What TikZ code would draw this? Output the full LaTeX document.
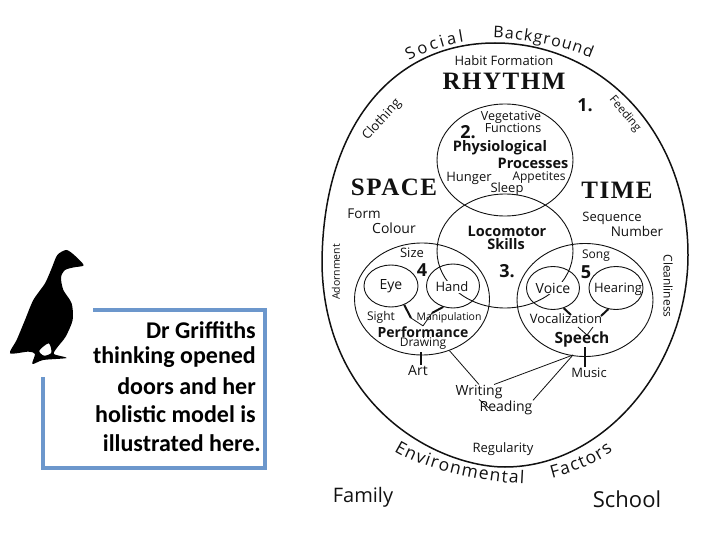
\documentclass[tikz,border=0pt]{standalone}
\usepackage{fontspec}
\setmainfont{Open Sans}
\newfontfamily\notefont{Carlito}
\newfontfamily\headfont[LetterSpace=6]{Liberation Serif}
\usepackage{tikz}
\usetikzlibrary{shapes.geometric,decorations.text}
\definecolor{ink}{HTML}{111111}
\definecolor{framing}{HTML}{6C97CC}
\tikzset{
  oval/.style={draw=ink,ellipse,line width=0.9pt,inner sep=0pt},
  plain/.style={color=ink,inner sep=0.5pt},
  numeral/.style={color=ink,font=\fontsize{18}{20}\selectfont\bfseries,inner sep=0pt},
  heading/.style={color=ink,font=\fontsize{25}{28}\headfont\bfseries,inner sep=0pt},
  stub/.style={draw=ink,line width=2pt},
  rule/.style={draw=ink,line width=1.2pt},
  thin/.style={draw=ink,line width=0.8pt},
  arcword/.style={decorate,decoration={text along path,text align={fit to path},text={#1}}}
}
\begin{document}
\begin{tikzpicture}[x=1pt,y=-1pt]
  \useasboundingbox (0,0) rectangle (720,540);

  % duck
  \begin{scope}[shift={(0,240)},x=0.3333pt,y=-0.3333pt]
    \fill[black,even odd rule]
      plot[smooth cycle,tension=0.45] coordinates {(251,76) (222,82) (195,90) (183,112) (190,150) (215,190) (218,240) (197,290) (172,322) (162,342) (200,354) (130,360) (97,372) (105,342) (85,335) (30,340) (50,300) (75,240) (100,180) (135,130) (155,85) (172,45) (200,30) (228,50)}
      plot[smooth cycle] coordinates {(118,332) (146,310) (154,338) (132,347)};
  \end{scope}

  % caption frame
  \draw[framing,line width=3.4pt,line join=miter] (93,310) -- (265,310) -- (265,468) -- (43,468) -- (43,377);
  \foreach \nm/\x/\y/\txt in {
    noteone/256/330/{Dr Griffiths},
    notetwo/256/357/{thinking opened},
    notethree/256/386/{doors and her},
    notefour/256/414/{holistic model is},
    notefive/261/443/{illustrated here.}} {
    \node[anchor=east,color=black,font=\fontsize{24}{26}\notefont\bfseries,inner sep=0pt] (\nm) at (\x,\y) {\txt};
  }

  % outer egg
  \draw[ink,line width=1.5pt] (495,43) .. controls (600,43) and (688,130) .. (688,255)
    .. controls (688,365) and (605,467) .. (505,467)
    .. controls (440,467) and (325,410) .. (322,265)
    .. controls (322,130) and (390,43) .. (495,43) -- cycle;

  % circles
  \node[oval,minimum width=136pt,minimum height=112pt] (physio) at (505,160) {};
  \node[oval,minimum width=136pt,minimum height=114pt] (loco) at (505,251) {};
  \node[oval,minimum width=135pt,minimum height=112pt] (perf) at (422,299) {};
  \node[oval,minimum width=136pt,minimum height=113pt] (speak) at (585,300) {};
  \node[oval,minimum width=54pt,minimum height=42pt] (eyeoval) at (391,286) {};
  \node[oval,minimum width=53pt,minimum height=44pt] (handoval) at (453,286) {};
  \node[oval,minimum width=53pt,minimum height=43pt] (voiceoval) at (553,288) {};
  \node[oval,minimum width=54pt,minimum height=43pt] (hearoval) at (616,288) {};

  % labels
  \foreach \nm/\x/\y/\sz/\txt in {
    habit/504/61/13/{Habit Formation},
    vegetative/511/117/12.5/Vegetative,
    functions/513/128/12.5/Functions,
    hunger/469/178/13/Hunger,
    appetites/539/178/12/Appetites,
    sleep/507/189/13/Sleep,
    form/364/214/13.5/Form,
    colour/394/228/14/Colour,
    sequence/612/218/13/Sequence,
    number/637/231/13.5/Number,
    size/412/253/13/Size,
    song/596/256/12/Song,
    eye/391/286/14/Eye,
    hearing/618/289/13/Hearing,
    sight/381/317/12/Sight,
    manipulation/449/318/10.5/Manipulation,
    vocalization/566/319/13/Vocalization,
    drawing/423/344/12/Drawing,
    art/418/371/14/Art,
    music/589/373/13/Music,
    writing/479/392/14/Writing,
    reading/506/408/14/Reading,
    regularity/503/449/13/Regularity,
    family/363/497/20/Family,
    school/627/499/22/School} {
    \node[plain,font=\fontsize{\sz}{14}\selectfont] (\nm) at (\x,\y) {\txt};
  }
  \node[plain,fill=white,font=\fontsize{13}{14}\selectfont] (hand) at (452,287) {Hand};
  \node[plain,fill=white,font=\fontsize{14}{14}\selectfont] (voice) at (553,288) {Voice};
  \node[plain,rotate=48,font=\fontsize{13}{14}\selectfont] (clothing) at (382,120) {Clothing};
  \node[plain,rotate=-50,font=\fontsize{11.5}{14}\selectfont] (feeding) at (625,114) {Feeding};
  \node[plain,rotate=90,font=\fontsize{10.5}{14}\selectfont] (adornment) at (336,272) {Adornment};
  \node[plain,rotate=-90,font=\fontsize{12}{14}\selectfont] (cleanliness) at (668,286) {Cleanliness};

  \foreach \nm/\x/\y/\sz/\txt in {
    physiological/500/148/14.5/Physiological,
    processes/533/163/14.5/Processes,
    locomotor/507/231/14.5/Locomotor,
    skills/506/244/14.5/Skills,
    performance/423/332/14/Performance,
    speech/582/339/15.5/Speech} {
    \node[plain,font=\fontsize{\sz}{16}\selectfont\bfseries] (\nm) at (\x,\y) {\txt};
  }
  \foreach \nm/\x/\y/\txt in {
    numone/585/105/1.,
    numtwo/468/132/2.,
    numthree/507/271/3.,
    numfour/422/270/4,
    numfive/586/272/5} {
    \node[numeral] (\nm) at (\x,\y) {\txt};
  }
  \node[heading] (rhythm) at (504,81) {RHYTHM};
  \node[heading] (space) at (394,187) {SPACE};
  \node[heading] (time) at (617,190) {TIME};

  % words along the egg
  \path[arcword={|\fontsize{16.5}{18}\selectfont\color{ink}|Social}] (409,61) .. controls (425,52) and (445,45) .. (464,42);
  \path[arcword={|\fontsize{16}{18}\selectfont\color{ink}|Background}] (493,38) .. controls (525,39) and (560,45) .. (591,58);
  \path[arcword={|\fontsize{17.5}{19}\selectfont\color{ink}|Environmental}] (394,451) .. controls (425,470) and (480,482) .. (524,484);
  \path[arcword={|\fontsize{17.5}{19}\selectfont\color{ink}|Factors}] (552,478) .. controls (575,472) and (597,463) .. (613,451);

  % connectors
  \coordinate (eyefoot) at (411,318);
  \coordinate (handfoot) at (432,313);
  \coordinate (voicefoot) at (571,315);
  \coordinate (hearfoot) at (601,316);
  \coordinate (veeleft) at (578,327);
  \coordinate (veeright) at (593,327);
  \coordinate (veetip) at (587,335);
  \coordinate (artfoot) at (421,352);
  \coordinate (musicfoot) at (585,347);
  \coordinate (speechfoot) at (573,355);
  \draw[stub] (eyeoval.-55) -- (eyefoot);
  \draw[thin] (eyefoot) -- (performance.north);
  \draw[stub] (handoval.-115) -- (handfoot);
  \draw[thin] (handfoot) -- (performance.north);
  \draw[stub] (voiceoval.-62) -- (voicefoot);
  \draw[stub] (hearoval.-110) -- (hearfoot);
  \draw[thin] (veeleft) -- (veetip) -- (veeright);
  \draw[thin] (performance.south) -- (drawing.north);
  \draw[rule] (artfoot) -- (artfoot |- art.north);
  \draw[rule] (musicfoot) -- (musicfoot |- music.north);
  \draw[thin] (perf.-62) -- (writing.north);
  \draw[thin] ([xshift=-9pt]writing.north east) -- (speechfoot);
  \draw[thin] (reading.north east) -- (speechfoot);
  \draw[thin] (writing.south) -- ([xshift=10pt]reading.west);
\end{tikzpicture}
\end{document}
